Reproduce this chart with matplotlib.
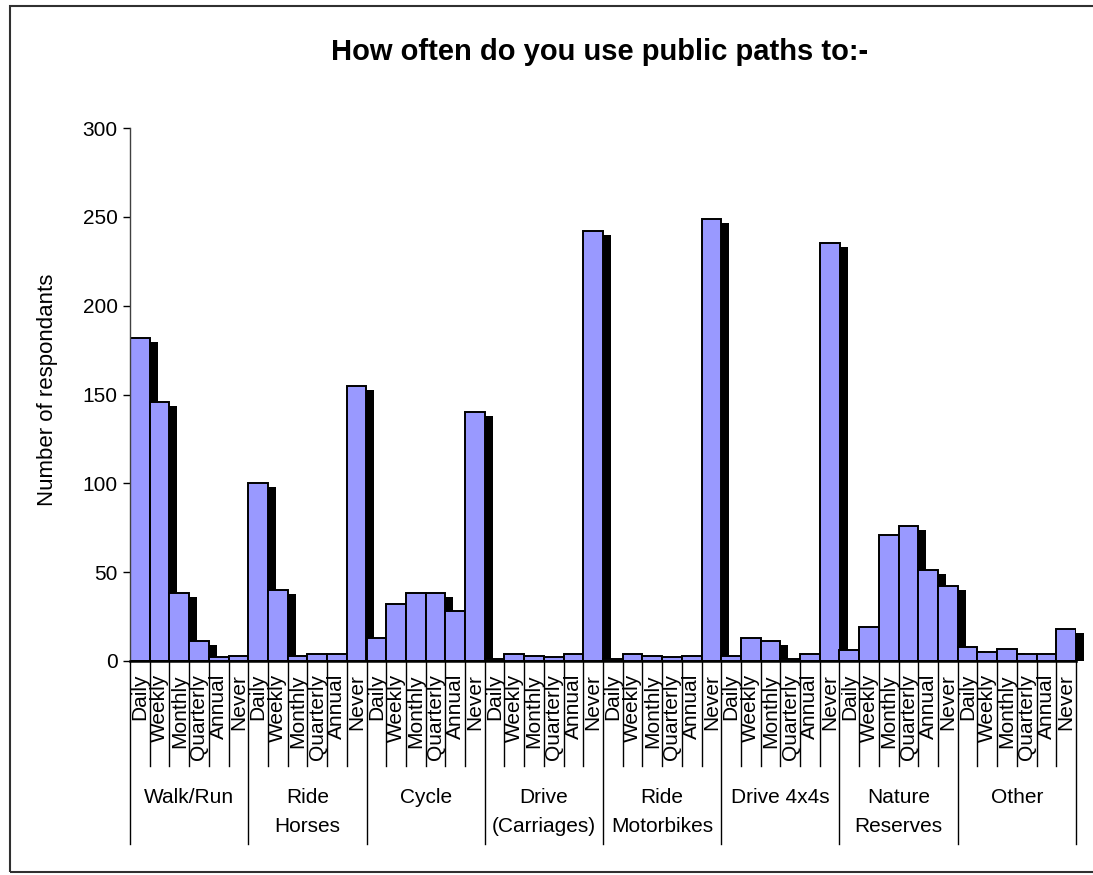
import matplotlib
matplotlib.use("Agg")
import matplotlib.pyplot as plt
import numpy as np
from matplotlib import transforms as mtransforms
from matplotlib.patches import Rectangle

plt.rcParams['font.family'] = ['Liberation Sans', 'DejaVu Sans']

# ---- data ----
title = "How often do you use public paths to:-"
y_label = "Number of respondants"
groups = ["Walk/Run", "Ride\nHorses", "Cycle", "Drive\n(Carriages)",
          "Ride\nMotorbikes", "Drive 4x4s", "Nature\nReserves", "Other"]
frequencies = ["Daily", "Weekly", "Monthly", "Quarterly", "Annual", "Never"]

walk_run = [182, 146, 38, 11, 2, 3]
ride_horses = [100, 40, 3, 4, 4, 155]
cycle = [13, 32, 38, 38, 28, 140]
drive_carriages = [1, 4, 3, 2, 4, 242]
ride_motorbikes = [1, 4, 3, 2, 3, 249]
drive_4x4s = [3, 13, 11, 1, 4, 235]
nature_reserves = [6, 19, 71, 76, 51, 42]
other = [8, 5, 7, 4, 4, 18]

series = [walk_run, ride_horses, cycle, drive_carriages,
          ride_motorbikes, drive_4x4s, nature_reserves, other]
y_ticks = [0, 50, 100, 150, 200, 250, 300]

# ---- figure ----
W, H = 1093, 875
fig = plt.figure(figsize=(W / 100, H / 100), dpi=100)

# outer chart border
fig.patches.append(Rectangle((10 / W, 3 / H), 1.5, 866 / H, transform=fig.transFigure,
                             fill=False, edgecolor='#303030', linewidth=1.5))

ax_left, ax_right, ax_top, ax_bot = 130, 1076, 128, 661
ax_h = ax_bot - ax_top
ax = fig.add_axes([ax_left / W, (H - ax_bot) / H, (ax_right - ax_left) / W, ax_h / H])

values = np.concatenate([np.array(s) for s in series])
n = len(values)
x = np.arange(n)

# shadows
shadow_trans = ax.transData + mtransforms.ScaledTranslation(8 / 100, -4 / 100, fig.dpi_scale_trans)
shadows = ax.bar(x, values, width=1.0, color='black', linewidth=0, zorder=1)
clip = mtransforms.TransformedBbox(mtransforms.Bbox([[0, 0], [1.02, 1.0]]), ax.transAxes)
for p in shadows:
    p.set_transform(shadow_trans)
    p.set_clip_box(clip)

ax.bar(x, values, width=1.0, color='#9999FF', edgecolor='black', linewidth=1.4, zorder=2)

ax.set_xlim(-0.5, n - 0.5)
ax.set_ylim(0, 300)
ax.set_yticks(y_ticks)
ax.tick_params(axis='y', length=5, width=1, labelsize=15, pad=4, colors='black')
ax.set_xticks([])
for s in ['top', 'right']:
    ax.spines[s].set_visible(False)
ax.spines['bottom'].set_linewidth(1.8)
ax.spines['bottom'].set_zorder(5)
ax.spines['left'].set_linewidth(1.0)
ax.spines['left'].set_color('#404040')

blend = mtransforms.blended_transform_factory(ax.transData, ax.transAxes)

# category boundary lines
for i in range(n + 1):
    xp = i - 0.5
    L = 183 if i % 6 == 0 else 105
    ax.plot([xp, xp], [0, -L / ax_h], transform=blend, clip_on=False,
            color='black', linewidth=1.0, zorder=3)

# frequency labels
for i in range(n):
    ax.text(i, -13 / ax_h, frequencies[i % 6], rotation=90, ha='center', va='top',
            transform=blend, fontsize=15)

# group labels
for g, lab in enumerate(groups):
    ax.text(6 * g + 2.5, -127 / ax_h, lab, ha='center', va='top', transform=blend,
            fontsize=15, linespacing=1.65)

fig.text(600 / W, 1 - 52 / H, title, ha='center', va='center', fontsize=21, fontweight='bold')
fig.text(48 / W, 1 - 390 / H, y_label, rotation=90, ha='center', va='center', fontsize=16)

fig.savefig("out.png", dpi=100)
